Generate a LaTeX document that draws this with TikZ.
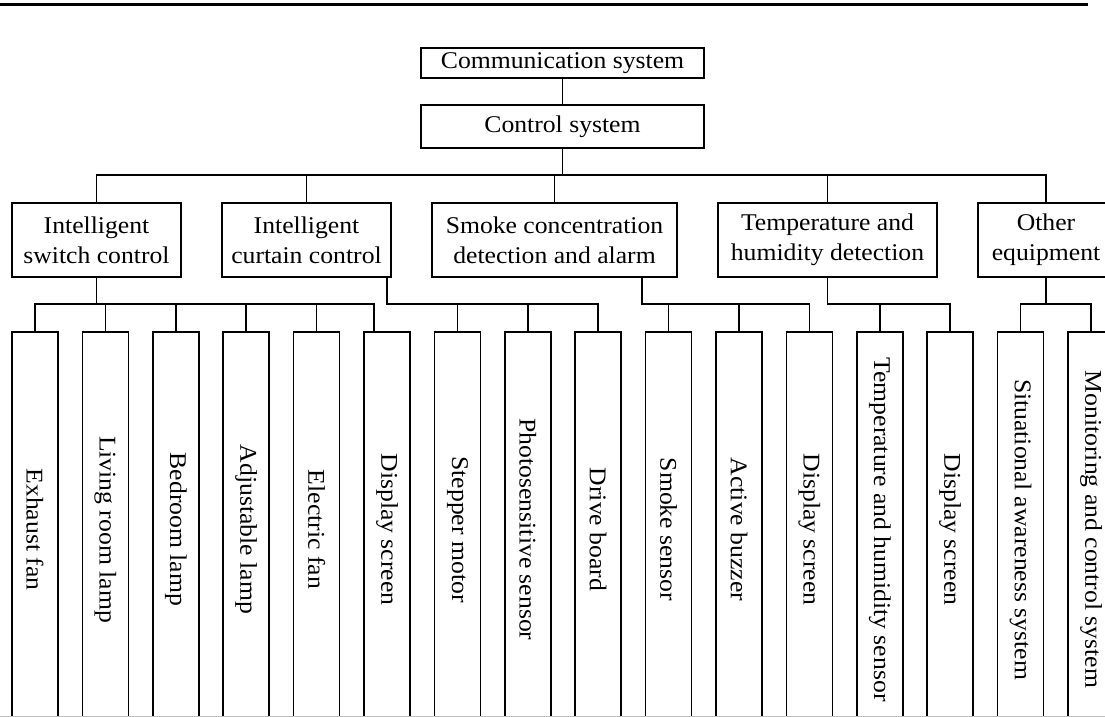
\documentclass[tikz,border=0pt]{standalone}
\usepackage{fontspec}
\setmainfont{Liberation Serif}[FakeStretch=1.07]
\usepackage{graphicx}
\begin{document}
\begin{tikzpicture}[x=1pt,y=-1pt,line width=1.5pt,line join=miter,
  box/.style={draw,inner sep=0pt,align=center,font=\fontsize{24}{30}\selectfont},
  topbox/.style={box,minimum width=283,minimum height=30},
  midbox/.style={box,minimum height=74},
  leaf/.style={box,minimum width=46,minimum height=395}]
\useasboundingbox (0,0) rectangle (1105,717);
\clip (0,0) rectangle (1105,717);
\draw[line width=3pt] (0,5) -- (1088,5);
\node[topbox] (comm) at (562.5,63) {Communication system};
\node[topbox,minimum height=43] (ctrl) at (562.5,126.5) {Control system};
\draw (comm) -- (ctrl);
\coordinate (bus1) at (0,175);
\coordinate (bus2) at (0,304);
\node[midbox,minimum width=169] (sw) at (96.5,240) {Intelligent\\switch control};
\node[midbox,minimum width=169] (cur) at (306.5,240) {Intelligent\\curtain control};
\node[midbox,minimum width=245] (smk) at (554.5,240) {Smoke concentration\\detection and alarm};
\node[midbox,minimum width=219] (tmp) at (827.5,240) {Temperature and\\humidity detection};
\node[midbox,minimum width=136] (oth) at (1046,240) {Other\\equipment};
\draw (ctrl.south) -- (ctrl.south |- bus1);
\draw (sw.north) |- (bus1 -| oth.north) -- (oth.north);
\foreach \n in {cur,smk,tmp} \draw (\n.north) -- (\n.north |- bus1);
\foreach \t [count=\i] in {Exhaust fan,Living room lamp,Bedroom lamp,Adjustable lamp,Electric fan,Display screen,Stepper motor,Photosensitive sensor,Drive board,Smoke sensor,Active buzzer,Display screen,Temperature and humidity sensor,Display screen,Situational awareness system,Monitoring and control system}
  \node[leaf] (b\i) at ({35+70.4*(\i-1)},529.5) {\rotatebox{-90}{\t}};
% switch group
\draw (sw.south) -- (sw.south |- bus2);
\draw (b1.north) |- ([xshift=-13pt]b6.north |- bus2) -- ([xshift=-13pt]b6.north);
\foreach \n in {b2,b3,b4,b5} \draw (\n.north) -- (\n.north |- bus2);
% curtain group
\coordinate (cd) at ([xshift=-5pt]cur.south east);
\draw (cd) |- (b9.north |- bus2) -- (b9.north);
\foreach \n in {b7,b8} \draw (\n.north) -- (\n.north |- bus2);
% smoke group
\coordinate (sd) at ([xshift=-36pt]smk.south east);
\draw (sd) |- (b12.north |- bus2) -- (b12.north);
\foreach \n in {b10,b11} \draw (\n.north) -- (\n.north |- bus2);
% temperature group
\draw (tmp.south) |- (b14.north |- bus2) -- (b14.north);
\draw (b13.north) -- (b13.north |- bus2);
% other group
\draw (oth.south) -- (oth.south |- bus2);
\draw (b15.north) |- (b16.north |- bus2) -- (b16.north);
% faint lower border of the figure
\draw[line width=1pt,black!25] (0,716.5) -- (1105,716.5);
\end{tikzpicture}
\end{document}
